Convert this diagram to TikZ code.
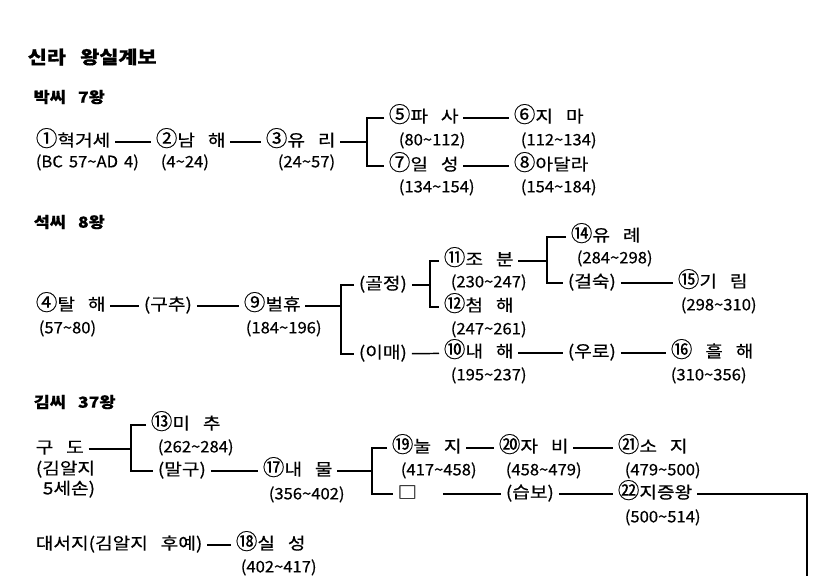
\documentclass[tikz,border=0pt]{standalone}
\usepackage{fontspec}
\setmainfont{Noto Sans CJK KR}[FakeStretch=1.15, WordSpace=3, FakeBold=0.5]
\newfontfamily\yeonfont{Noto Sans CJK KR}[FakeStretch=1.05, WordSpace=1.6, FakeBold=0.5]
\newfontfamily\wonfont{Noto Sans CJK KR}[Scale=1.3, FakeBold=0.4]

\tikzstyle{wang}=[anchor=west, inner xsep=3.5pt, inner ysep=0pt, text height=0.84em, text depth=0.1em, font=\fontsize{14.2}{16}\selectfont]
\tikzstyle{yeon}=[wang, font=\yeonfont\fontsize{13.5}{16}\selectfont]
\tikzstyle{jemok}=[anchor=west, inner sep=0pt, font=\bfseries\fontsize{13}{15}\selectfont]

\begin{document}
\begin{tikzpicture}[x=0.03cm, y=-0.03cm, line width=1.25pt]
            \useasboundingbox (0,0) rectangle (830,576);

            % 제목
            \node[jemok, font=\bfseries\fontsize{15.4}{18}\selectfont] (title) at (27,57) {신라 왕실계보};

            % 박씨
            \node[jemok] (park) at (33,97) {박씨 7왕};
            \node[wang] (k1) at (31,142) {{\wonfont ①}혁거세};
            \node[yeon] (d1) at (31,163) {(BC 57\textasciitilde AD 4)};
            \node[wang] (k2) at (151,142) {{\wonfont ②}남 해};
            \node[yeon] (d2) at (156,163) {(4\textasciitilde24)};
            \node[wang] (k3) at (261,142) {{\wonfont ③}유 리};
            \node[yeon] (d3) at (273,163) {(24\textasciitilde57)};
            \coordinate (b3) at (367,142);
            \node[wang] (k5) at (384,118) {{\wonfont ⑤}파 사};
            \node[yeon] (d5) at (394,141) {(80\textasciitilde112)};
            \node[wang] (k6) at (509,118) {{\wonfont ⑥}지 마};
            \node[yeon] (d6) at (516,141) {(112\textasciitilde134)};
            \node[wang] (k7) at (384,166) {{\wonfont ⑦}일 성};
            \node[yeon] (d7) at (394,188) {(134\textasciitilde154)};
            \node[wang] (k8) at (509,166) {{\wonfont ⑧}아달라};
            \node[yeon] (d8) at (516,188) {(154\textasciitilde184)};

            \draw (k1) -- (k2);
            \draw (k2) -- (k3);
            \draw (k3) -- (b3);
            \draw (k5) -| (b3) |- (k7);
            \draw (k5) -- (k6);
            \draw (k7) -- (k8);

            % 석씨
            \node[jemok] (seok) at (33,222) {석씨 8왕};
            \node[wang] (k4) at (31,306) {{\wonfont ④}탈 해};
            \node[yeon] (d4) at (34,329) {(57\textasciitilde80)};
            \node[wang] (guchu) at (139,306) {(구추)};
            \node[wang] (k9) at (239,306) {{\wonfont ⑨}벌휴};
            \node[yeon] (d9) at (241,329) {(184\textasciitilde196)};
            \coordinate (b9) at (341,306);
            \node[wang] (goljeong) at (354,285) {(골정)};
            \node[wang] (imae) at (354,354) {(이매)};
            \coordinate (bg) at (430,285);
            \node[wang] (k11) at (439,261) {{\wonfont ⑪}조 분};
            \node[yeon] (d11) at (446,283) {(230\textasciitilde247)};
            \node[wang] (k12) at (439,307) {{\wonfont ⑫}첨 해};
            \node[yeon] (d12) at (446,330) {(247\textasciitilde261)};
            \coordinate (b11) at (547,261);
            \node[wang] (k14) at (566,237) {{\wonfont ⑭}유 례};
            \node[yeon] (d14) at (572,259) {(284\textasciitilde298)};
            \node[wang] (geolsuk) at (563,283) {(걸숙)};
            \node[wang] (k15) at (673,283) {{\wonfont ⑮}기 림};
            \node[yeon] (d15) at (676,306) {(298\textasciitilde310)};
            \node[wang] (k10) at (439,353) {{\wonfont ⑩}내 해};
            \node[yeon] (d10) at (446,376) {(195\textasciitilde237)};
            \node[wang] (uro) at (563,353) {(우로)};
            \node[wang] (k16) at (666,353) {{\wonfont ⑯} 흘 해};
            \node[yeon] (d16) at (666,376) {(310\textasciitilde356)};

            \draw (k4) -- (guchu);
            \draw (guchu) -- (k9);
            \draw (k9) -- (b9);
            \draw (goljeong) -| (b9) |- (imae);
            \draw (goljeong) -- (bg);
            \draw (k11) -| (bg) |- (k12);
            \draw (k11) -- (b11);
            \draw (k14) -| (b11) |- (geolsuk);
            \draw (geolsuk) -- (k15);
            \draw (imae) -- (k10);
            \draw (k10) -- (uro);
            \draw (uro) -- (k16);

            % 김씨
            \node[jemok] (gim) at (33,402) {김씨 37왕};
            \node[wang] (gudo) at (31,449) {구 도};
            \node[wang] (gudo1) at (31,470) {(김알지};
            \node[wang] (gudo2) at (38,490) {5세손)};
            \coordinate (bgd) at (131,449);
            \node[wang] (k13) at (146,425) {{\wonfont ⑬}미 추};
            \node[yeon] (d13) at (153,448) {(262\textasciitilde284)};
            \node[wang] (malgu) at (153,471) {(말구)};
            \node[wang] (k17) at (258,471) {{\wonfont ⑰}내 물};
            \node[yeon] (d17) at (264,495) {(356\textasciitilde402)};
            \coordinate (b17) at (372,471);
            \node[wang] (k19) at (387,448) {{\wonfont ⑲}눌 지};
            \node[yeon] (d19) at (396,471) {(417\textasciitilde458)};
            \node[wang] (k20) at (494,448) {{\wonfont ⑳}자 비};
            \node[yeon] (d20) at (501,471) {(458\textasciitilde479)};
            \node[wang] (k21) at (613,448) {{\wonfont ㉑}소 지};
            \node[yeon] (d21) at (620,471) {(479\textasciitilde500)};
            \node[wang] (nemo) at (393,494) {□};
            \node[wang] (seupbo) at (501,494) {(습보)};
            \node[wang] (k22) at (613,494) {{\wonfont ㉒}지증왕};
            \node[yeon] (d22) at (620,518) {(500\textasciitilde514)};
            \coordinate (kkeut) at (807,576);
            \node[wang] (daeseoji) at (31,545) {대서지(김알지 후예)};
            \node[wang] (k18) at (231,545) {{\wonfont ⑱}실 성};
            \node[yeon] (d18) at (236,568) {(402\textasciitilde417)};

            \draw (gudo) -- (bgd);
            \draw (k13) -| (bgd) |- (malgu);
            \draw (malgu) -- (k17);
            \draw (k17) -- (b17);
            \draw (k19) -| (b17) |- (nemo);
            \draw (k19) -- (k20);
            \draw (k20) -- (k21);
            \draw[shorten <=18pt] (nemo) -- (seupbo);
            \draw (seupbo) -- (k22);
            \draw (k22) -| (kkeut);
            \draw (daeseoji) -- (k18);
        \end{tikzpicture}
\end{document}
